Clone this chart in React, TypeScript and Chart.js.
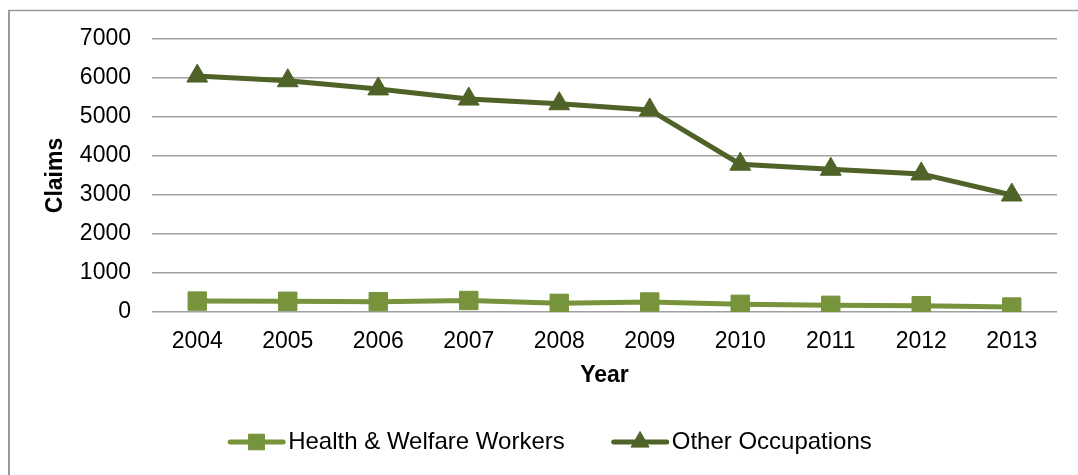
import React, { useEffect, useRef } from 'react';
import { Chart, registerables } from 'chart.js';
import { drawPoint } from 'chart.js/helpers';

Chart.register(...registerables);

const years = ['2004', '2005', '2006', '2007', '2008', '2009', '2010', '2011', '2012', '2013'];
const healthWelfareWorkers = [280, 275, 265, 295, 222, 256, 197, 171, 162, 128];
const otherOccupations = [6050, 5930, 5720, 5460, 5340, 5180, 3790, 3660, 3540, 3000];
const yTickValues = [0, 1000, 2000, 3000, 4000, 5000, 6000, 7000];

const FONT = '"Liberation Sans", Arial, Helvetica, sans-serif';
const LIGHT = '#77933C';
const DARK = '#4F6228';

const framePlugin = {
  id: 'frame',
  beforeDraw(chart: any) {
    const ctx = chart.ctx;
    ctx.save();
    ctx.fillStyle = '#ffffff';
    ctx.fillRect(0, 0, chart.width, chart.height);
    ctx.strokeStyle = '#9a9a9a';
    ctx.lineWidth = 2;
    ctx.beginPath();
    ctx.moveTo(9, chart.height);
    ctx.lineTo(9, 10.5);
    ctx.stroke();
    ctx.lineWidth = 1.5;
    ctx.beginPath();
    ctx.moveTo(8, 10.5);
    ctx.lineTo(chart.width, 10.5);
    ctx.stroke();
    ctx.restore();
  },
};

const lineLegendPlugin = {
  id: 'lineLegend',
  afterDraw(chart: any) {
    const ctx = chart.ctx;
    ctx.save();
    ctx.font = `24px ${FONT}`;
    const lineLen = 57;
    const gapText = 3;
    const gapItem = 47;
    const dsList = chart.data.datasets;
    const widths = dsList.map((ds: any) => lineLen + gapText + ctx.measureText(ds.label).width);
    const total = widths.reduce((a: number, b: number) => a + b, 0) + gapItem * (dsList.length - 1);
    let x = 550 - total / 2;
    const y = 442;
    dsList.forEach((ds: any, i: number) => {
      ctx.strokeStyle = ds.borderColor;
      ctx.lineWidth = ds.borderWidth;
      ctx.lineCap = 'round';
      ctx.beginPath();
      ctx.moveTo(x + 2, y);
      ctx.lineTo(x + lineLen - 2, y);
      ctx.stroke();
      ctx.fillStyle = ds.pointBackgroundColor;
      ctx.strokeStyle = ds.pointBorderColor;
      ctx.lineWidth = ds.pointBorderWidth;
      drawPoint(ctx, { pointStyle: ds.pointStyle, radius: ds.pointRadius * 0.85, rotation: 0, borderWidth: ds.pointBorderWidth }, x + lineLen / 2, y);
      ctx.fillStyle = '#000000';
      ctx.textAlign = 'left';
      ctx.textBaseline = 'middle';
      ctx.fillText(ds.label, x + lineLen + gapText, y);
      x += widths[i] + gapItem;
    });
    ctx.restore();
  },
};

export default function App() {
  const canvasRef = useRef<HTMLCanvasElement | null>(null);

  useEffect(() => {
    if (!canvasRef.current) return;
    Chart.defaults.font.family = FONT;
    const chart = new Chart(canvasRef.current, {
      type: 'line',
      data: {
        labels: years,
        datasets: [
          {
            label: 'Health & Welfare Workers',
            data: healthWelfareWorkers,
            borderColor: LIGHT,
            backgroundColor: LIGHT,
            borderWidth: 5,
            tension: 0,
            pointStyle: 'rect',
            pointRadius: 13,
            pointBackgroundColor: LIGHT,
            pointBorderColor: LIGHT,
            pointBorderWidth: 1,
          },
          {
            label: 'Other Occupations',
            data: otherOccupations,
            borderColor: DARK,
            backgroundColor: DARK,
            borderWidth: 5,
            tension: 0,
            pointStyle: 'triangle',
            pointRadius: 12,
            pointBackgroundColor: DARK,
            pointBorderColor: DARK,
            pointBorderWidth: 1,
          },
        ],
      },
      options: {
        animation: false,
        responsive: true,
        maintainAspectRatio: false,
        layout: { padding: { left: 0, right: 21, top: 39, bottom: 0 } },
        plugins: {
          legend: { display: false },
          tooltip: { enabled: false },
        },
        scales: {
          x: {
            type: 'category',
            offset: true,
            grid: { display: false, drawTicks: false },
            border: { display: false },
            ticks: {
              color: '#000000',
              font: { size: 23, family: FONT },
              padding: 16,
              maxRotation: 0,
              autoSkip: false,
            },
            title: {
              display: true,
              text: 'Year',
              color: '#000000',
              font: { size: 23, weight: 'bold', family: FONT },
              padding: { top: 0, bottom: 86 },
            },
            afterFit(scale: any) {
              scale.height = 163;
            },
          },
          y: {
            min: 0,
            max: 7000,
            afterBuildTicks(scale: any) {
              scale.ticks = yTickValues.map((v) => ({ value: v }));
            },
            grid: { color: '#a0a0a0', lineWidth: 1.5, drawTicks: false },
            border: { display: false },
            ticks: {
              color: '#000000',
              font: { size: 23, family: FONT },
              padding: 21,
              callback: (value: any) => String(value),
            },
            title: {
              display: true,
              text: 'Claims',
              color: '#000000',
              font: { size: 23, weight: 'bold', family: FONT },
              padding: { top: 42, bottom: 0 },
            },
            afterFit(scale: any) {
              scale.width = 152;
            },
          },
        },
      },
      plugins: [framePlugin, lineLegendPlugin],
    });
    return () => chart.destroy();
  }, []);

  return (
    <div style={{ position: 'absolute', left: 0, top: 0, width: 1078, height: 475 }}>
      <canvas ref={canvasRef} />
    </div>
  );
}
